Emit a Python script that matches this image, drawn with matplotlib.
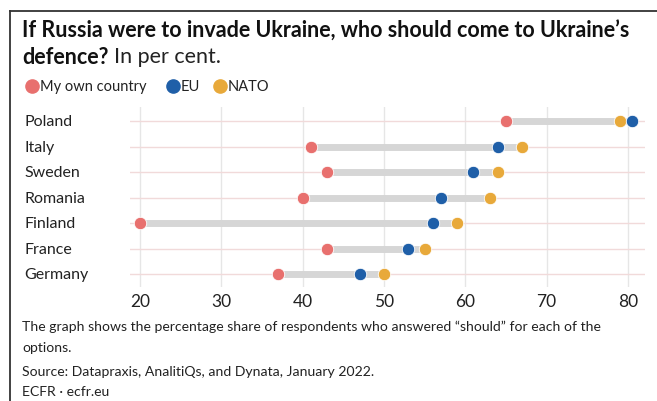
import matplotlib
matplotlib.use("Agg")
import matplotlib.pyplot as plt
from matplotlib.lines import Line2D

plt.rcParams["font.family"] = ["Lato", "DejaVu Sans"]

# data (per cent)
countries = ["Poland", "Italy", "Sweden", "Romania", "Finland", "France", "Germany"]
own_country = [65, 41, 43, 40, 20, 43, 37]
eu = [80.5, 64, 61, 57, 56, 53, 47]
nato = [79, 67, 64, 63, 59, 55, 50]
x_ticks = [20, 30, 40, 50, 60, 70, 80]

RED = "#E8706E"
BLUE = "#1F5FA8"
GOLD = "#E8A93A"
BAR = "#D6D6D6"

W, H = 657, 402
fig = plt.figure(figsize=(W / 100, H / 100), dpi=100)
fig.patch.set_facecolor("white")


def fx(px):
    return px / W


def fy(py):
    return 1 - py / H


# frame (cropped box)
fig.add_artist(Line2D([fx(10), 1], [fy(12), fy(12)], color="#333333", lw=1.3))
fig.add_artist(Line2D([fx(10), fx(10)], [fy(12), 0], color="#333333", lw=1.3))

# title
fig.text(fx(22), fy(31), "If Russia were to invade Ukraine, who should come to Ukraine\u2019s",
         fontsize=15.5, fontweight="bold", va="center", ha="left", color="#111111")
t2 = fig.text(fx(22), fy(57), "defence?", fontsize=15.5, fontweight="bold",
              va="center", ha="left", color="#111111")
fig.canvas.draw()
bb = t2.get_window_extent()
fig.text(bb.x1 / W + fx(5), fy(57), "In per cent.", fontsize=15.5,
         va="center", ha="left", color="#222222")

# legend
legend_items = [("My own country", RED, 32), ("EU", BLUE, 173), ("NATO", GOLD, 220)]
for label, col, px in legend_items:
    fig.add_artist(Line2D([fx(px)], [fy(87)], marker="o", ms=9.5, color=col, lw=0))
    fig.text(fx(px + 8), fy(87), label, fontsize=10.5, va="center", ha="left", color="#222222")

# plot area
left_px, right_px = 130, 645
ax = fig.add_axes([fx(left_px), fy(288), fx(right_px) - fx(left_px), fy(108) - fy(288)])
ys = list(range(len(countries)))[::-1]
ax.set_xlim(18.77, 82.1)
ax.set_ylim(-0.51, 6.55)

for x in x_ticks:
    ax.axvline(x, color="#E6E6E6", lw=1, zorder=0)
for y in ys:
    ax.axhline(y, color="#F1DADA", lw=1, zorder=0)

for y, o, e, n in zip(ys, own_country, eu, nato):
    lo, hi = min(o, e, n), max(o, e, n)
    ax.plot([lo, hi], [y, y], color=BAR, lw=5, solid_capstyle="butt", zorder=1)

ax.scatter(own_country, ys, s=80, color=RED, zorder=3, edgecolors="white", linewidths=0.6)
ax.scatter(nato, ys, s=80, color=GOLD, zorder=3, edgecolors="white", linewidths=0.6)
ax.scatter(eu, ys, s=80, color=BLUE, zorder=4, edgecolors="white", linewidths=0.6)

label_x = (24 - left_px) / (right_px - left_px)
for y, name in zip(ys, countries):
    ax.text(label_x, y, name, transform=ax.get_yaxis_transform(),
            ha="left", va="center", fontsize=11.5, color="#222222")

ax.set_xticks(x_ticks)
ax.set_xticklabels([str(v) for v in x_ticks], fontsize=12.5, color="#222222")
ax.tick_params(axis="x", length=0, pad=4)
ax.set_yticks([])
for s in ax.spines.values():
    s.set_visible(False)

# footnotes
notes = [
    (327, "The graph shows the percentage share of respondents who answered \u201cshould\u201d for each of the"),
    (348, "options."),
    (372, "Source: Datapraxis, AnalitiQs, and Dynata, January 2022."),
    (392, "ECFR \u00b7 ecfr.eu"),
]
for py, txt in notes:
    fig.text(fx(22), fy(py), txt, fontsize=10.1, va="center", ha="left", color="#222222")

fig.savefig("out.png", dpi=100, facecolor="white")
